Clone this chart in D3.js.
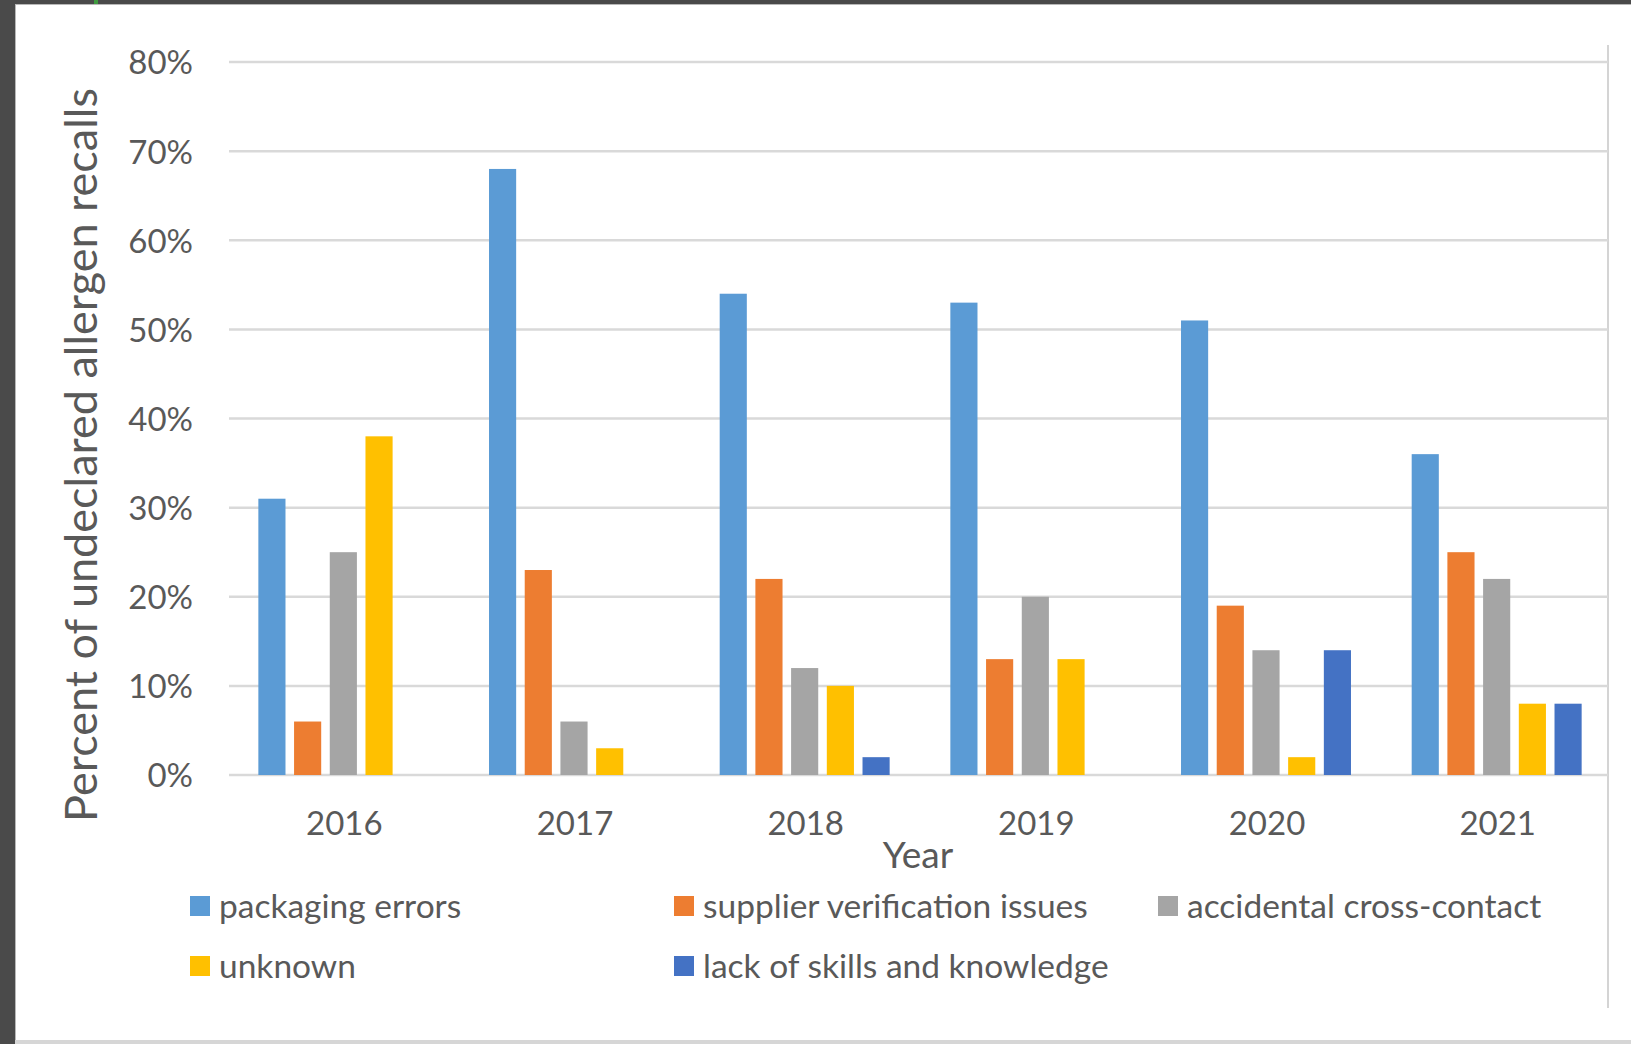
<!DOCTYPE html>
<html>
<head>
<meta charset="utf-8">
<script src="https://cdn.jsdelivr.net/npm/d3@7"></script>
<style>
  html, body { margin: 0; padding: 0; background: #4a4a4a; }
  svg { display: block; }
  text { font-family: Lato, "Open Sans", sans-serif; fill: #595959; }
</style>
</head>
<body>
<svg id="chart" width="1631" height="1044"></svg>
<script>
// Undeclared allergen recalls by root cause, 2016–2021 (percent of recalls)
const years = ["2016", "2017", "2018", "2019", "2020", "2021"];
const seriesNames = [
  "packaging errors",
  "supplier verification issues",
  "accidental cross-contact",
  "unknown",
  "lack of skills and knowledge"
];
const packagingErrors      = [0.31, 0.68, 0.54, 0.53, 0.51, 0.36];
const supplierVerification = [0.06, 0.23, 0.22, 0.13, 0.19, 0.25];
const crossContact         = [0.25, 0.06, 0.12, 0.20, 0.14, 0.22];
const unknownCause         = [0.38, 0.03, 0.10, 0.13, 0.02, 0.08];
const lackOfSkills         = [null, null, 0.02, null, 0.14, 0.08];
const yTicks = [0, 0.1, 0.2, 0.3, 0.4, 0.5, 0.6, 0.7, 0.8];
const colors = ["#5B9BD5", "#ED7D31", "#A5A5A5", "#FFC000", "#4472C4"];

const seriesValues = [packagingErrors, supplierVerification, crossContact, unknownCause, lackOfSkills];

const svg = d3.select("#chart");

// window frame and white chart background
svg.append("rect").attr("x", 0).attr("y", 0).attr("width", 1631).attr("height", 1044).attr("fill", "#4a4a4a");
svg.append("rect").attr("x", 15).attr("y", 4).attr("width", 1616).attr("height", 1036).attr("fill", "#ffffff");
svg.append("line").attr("x1", 15).attr("x2", 1631).attr("y1", 4.5).attr("y2", 4.5).attr("stroke", "#b8b8b8").attr("stroke-width", 1);
svg.append("line").attr("x1", 15.5).attr("x2", 15.5).attr("y1", 4).attr("y2", 1040).attr("stroke", "#b8b8b8").attr("stroke-width", 1);
svg.append("rect").attr("x", 15).attr("y", 1040).attr("width", 1616).attr("height", 4).attr("fill", "#d6d6d6");
svg.append("rect").attr("x", 94).attr("y", 0).attr("width", 4).attr("height", 4).attr("fill", "#3f9b3f");

// right edge of the chart area
svg.append("line").attr("x1", 1608).attr("x2", 1608).attr("y1", 45).attr("y2", 1008)
  .attr("stroke", "#d4d4d4").attr("stroke-width", 2);

const plotLeft = 229, plotRight = 1608;

const x0 = d3.scaleBand().domain(years).range([228, 1612]).padding(0);
const x1 = d3.scaleBand().domain(seriesNames).range([0, x0.bandwidth()])
  .paddingInner(0.24).paddingOuter(0.85);
const y = d3.scaleLinear().domain([0, 0.8]).range([775, 62]);

// horizontal gridlines
svg.append("g").selectAll("line").data(yTicks).join("line")
  .attr("x1", plotLeft).attr("x2", plotRight)
  .attr("y1", d => y(d)).attr("y2", d => y(d))
  .attr("stroke", "#d9d9d9").attr("stroke-width", 2.5);

// y axis tick labels
const yAxis = d3.axisLeft(y).tickValues(yTicks).tickFormat(d3.format(".0%")).tickSize(0).tickPadding(0);
const gy = svg.append("g").attr("transform", "translate(193,0)").call(yAxis);
gy.select(".domain").remove();
gy.selectAll("text").attr("font-size", 33).attr("fill", "#595959")
  .attr("font-family", "Lato, sans-serif").attr("dy", "0.36em");

// bars
const groups = svg.append("g").selectAll("g").data(years).join("g")
  .attr("transform", d => `translate(${x0(d)},0)`);
groups.selectAll("rect")
  .data((yr, i) => seriesNames.map((name, s) => ({ name, s, v: seriesValues[s][i] })).filter(d => d.v != null))
  .join("rect")
  .attr("x", d => x1(d.name))
  .attr("width", x1.bandwidth())
  .attr("y", d => y(d.v))
  .attr("height", d => y(0) - y(d.v))
  .attr("fill", d => colors[d.s]);

// x axis category labels
const xAxis = d3.axisBottom(x0).tickSize(0).tickPadding(0);
const gx = svg.append("g").attr("transform", "translate(1,835)").call(xAxis);
gx.select(".domain").remove();
gx.selectAll("text").attr("font-size", 33).attr("fill", "#595959")
  .attr("font-family", "Lato, sans-serif").attr("dy", 0);

// axis titles
svg.append("text").attr("x", 918).attr("y", 868)
  .attr("text-anchor", "middle").attr("font-size", 37).text("Year");
svg.append("text").attr("transform", "translate(97,455) rotate(-90)")
  .attr("text-anchor", "middle").attr("font-size", 45).text("Percent of undeclared allergen recalls");

// legend
const legendPos = [
  { x: 190, y: 916 }, { x: 674, y: 916 }, { x: 1158, y: 916 },
  { x: 190, y: 976 }, { x: 674, y: 976 }
];
const legend = svg.append("g").selectAll("g").data(seriesNames).join("g")
  .attr("transform", (d, i) => `translate(${legendPos[i].x},${legendPos[i].y})`);
legend.append("rect").attr("x", 0).attr("y", -20).attr("width", 20).attr("height", 20)
  .attr("fill", (d, i) => colors[i]);
legend.append("text").attr("x", 29).attr("y", 2).attr("font-size", 33.5).text(d => d);
</script>
</body>
</html>
